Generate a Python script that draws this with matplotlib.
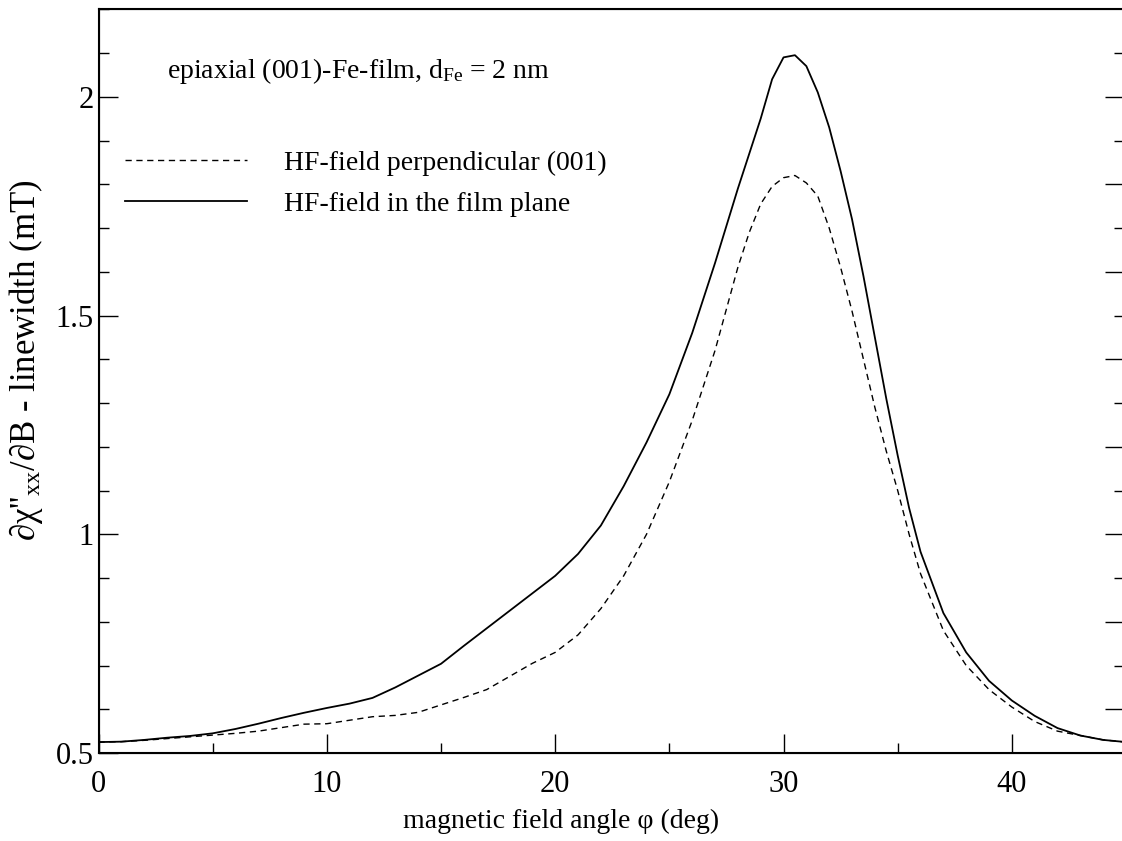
import numpy as np
import matplotlib.pyplot as plt
from matplotlib.ticker import MultipleLocator, FixedLocator

plt.rcParams['font.family'] = ['Liberation Serif', 'DejaVu Serif']
plt.rcParams['mathtext.fontset'] = 'custom'
plt.rcParams['mathtext.rm'] = 'Liberation Serif'
plt.rcParams['mathtext.it'] = 'Liberation Serif:italic'

# winkel (deg)
phi_inplane = [0, 1, 2, 3, 4, 5, 6, 7, 8, 9, 10, 11, 12, 13, 14, 15, 16, 17, 18, 19,
               20, 21, 22, 23, 24, 25, 26, 27, 28, 28.5, 29, 29.5, 30, 30.5, 31, 31.5,
               32, 32.5, 33, 33.5, 34, 34.5, 35, 35.5, 36, 37, 38, 39, 40, 41, 42, 43, 44, 45]
lw_inplane = [0.525, 0.526, 0.530, 0.535, 0.539, 0.545, 0.555, 0.567, 0.580, 0.592,
              0.603, 0.613, 0.626, 0.650, 0.677, 0.704, 0.745, 0.785, 0.825, 0.865,
              0.905, 0.955, 1.020, 1.110, 1.210, 1.320, 1.460, 1.620, 1.790, 1.870,
              1.950, 2.040, 2.090, 2.095, 2.070, 2.010, 1.930, 1.830, 1.720, 1.590,
              1.450, 1.310, 1.180, 1.060, 0.960, 0.820, 0.730, 0.665, 0.620, 0.585,
              0.557, 0.540, 0.530, 0.525]

phi_perp = [0, 1, 2, 3, 4, 5, 6, 7, 8, 9, 10, 11, 12, 13, 14, 15, 16, 17, 18, 19,
            20, 21, 22, 23, 24, 25, 26, 27, 28, 28.5, 29, 29.5, 30, 30.5, 31, 31.5,
            32, 32.5, 33, 33.5, 34, 34.5, 35, 35.5, 36, 37, 38, 39, 40, 41, 42, 43, 44, 45]
lw_perp = [0.525, 0.526, 0.529, 0.533, 0.537, 0.541, 0.545, 0.550, 0.558, 0.566,
           0.567, 0.575, 0.583, 0.586, 0.593, 0.610, 0.627, 0.645, 0.675, 0.705,
           0.730, 0.770, 0.830, 0.905, 1.000, 1.120, 1.260, 1.420, 1.610, 1.690,
           1.755, 1.795, 1.815, 1.820, 1.803, 1.773, 1.700, 1.610, 1.510, 1.400,
           1.290, 1.190, 1.100, 1.000, 0.910, 0.780, 0.700, 0.645, 0.605, 0.572,
           0.550, 0.540, 0.530, 0.525]

# ticks auf der rechten seite
right_long = [0.6, 0.8, 1.0, 1.2, 1.4, 1.6, 1.8, 2.0]
right_short = [0.7, 0.9, 1.1, 1.3, 1.5, 1.7, 1.9, 2.1]

fig = plt.figure(figsize=(11.22, 8.41), dpi=100)
ax = fig.add_axes([0.0878, 0.1046, 0.9158, 0.8844])

l1, = ax.plot(phi_perp, lw_perp, color='black', lw=1.0, dashes=(4.5, 3.3))
l2, = ax.plot(phi_inplane, lw_inplane, color='black', lw=1.3)

ax.set_xlim(0, 45)
ax.set_ylim(0.5, 2.2)
ax.xaxis.set_major_locator(MultipleLocator(10))
ax.xaxis.set_minor_locator(MultipleLocator(5))
ax.yaxis.set_minor_locator(MultipleLocator(0.1))
ax.set_yticks([0.5, 1, 1.5, 2])
ax.set_yticklabels(['0.5', '1', '1.5', '2'])
ax.tick_params(which='both', direction='in', top=False, right=False)
ax.tick_params(axis='y', labelsize=22)
ax.tick_params(axis='x', labelsize=22, pad=12)
ax.tick_params(which='major', length=14, width=1.0)
ax.tick_params(which='minor', length=7, width=1.0)
for s in ax.spines.values():
    s.set_linewidth(1.5)

ax2 = ax.twinx()
ax2.set_ylim(0.5, 2.2)
ax2.yaxis.set_major_locator(FixedLocator(right_long))
ax2.yaxis.set_minor_locator(FixedLocator(right_short))
ax2.tick_params(which='both', direction='in', labelright=False, width=1.0)
ax2.tick_params(which='major', length=15)
ax2.tick_params(which='minor', length=9)

ax.set_xlabel('magnetic field angle \u03c6 (deg)', fontsize=20, labelpad=0)
ax.xaxis.set_label_coords(0.45, -0.075)
ax.set_ylabel("\u2202\u03c7''$_{\\rm xx}$/\u2202B - linewidth (mT)", fontsize=25, labelpad=10)
ax.yaxis.set_label_coords(-0.052, 0.528)

ax.text(3.0, 2.058, 'epiaxial (001)-Fe-film, d$_{\\rm Fe}$ = 2 nm', fontsize=20, va='center')

ax.legend([l1, l2], ['HF-field perpendicular (001)', 'HF-field in the film plane'],
          loc='upper left', bbox_to_anchor=(0.026, 0.81), frameon=False, fontsize=20,
          handlelength=4.4, handletextpad=1.3, labelspacing=0.55, borderpad=0, borderaxespad=0)

fig.savefig('out.png', dpi=100)
